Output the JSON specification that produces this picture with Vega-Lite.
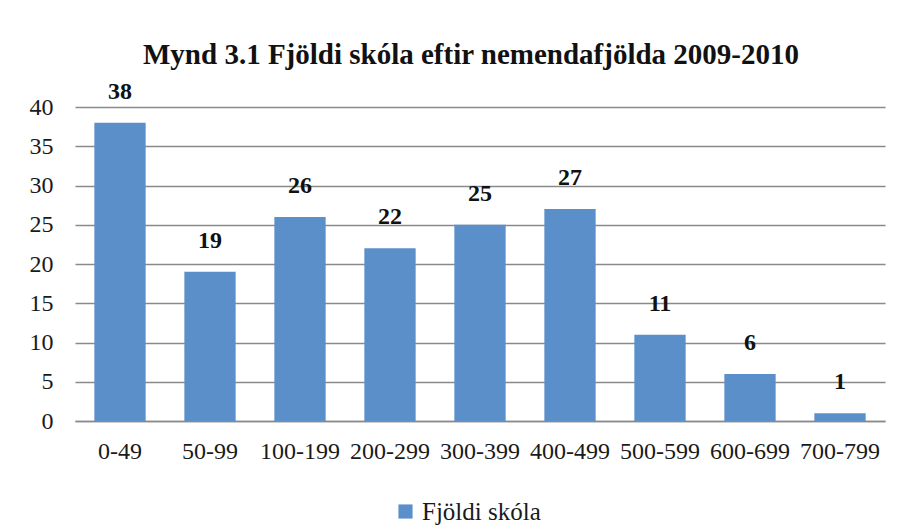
{
  "$schema": "https://vega.github.io/schema/vega-lite/v6.json",
  "autosize": "none",
  "width": 810,
  "height": 314,
  "padding": {"left": 75, "top": 107, "right": 29, "bottom": 105},
  "background": "#ffffff",
  "title": {
    "text": "Mynd 3.1 Fjöldi skóla eftir nemendafjölda 2009-2010",
    "font": "Liberation Serif",
    "fontSize": 29,
    "fontWeight": "bold",
    "color": "#111111",
    "anchor": "middle",
    "dx": -9,
    "offset": 10
  },
  "data": {
    "values": [
      {"flokkur": "0-49", "fjoldi": 38, "rod": "Fjöldi skóla"},
      {"flokkur": "50-99", "fjoldi": 19, "rod": "Fjöldi skóla"},
      {"flokkur": "100-199", "fjoldi": 26, "rod": "Fjöldi skóla"},
      {"flokkur": "200-299", "fjoldi": 22, "rod": "Fjöldi skóla"},
      {"flokkur": "300-399", "fjoldi": 25, "rod": "Fjöldi skóla"},
      {"flokkur": "400-499", "fjoldi": 27, "rod": "Fjöldi skóla"},
      {"flokkur": "500-599", "fjoldi": 11, "rod": "Fjöldi skóla"},
      {"flokkur": "600-699", "fjoldi": 6, "rod": "Fjöldi skóla"},
      {"flokkur": "700-799", "fjoldi": 1, "rod": "Fjöldi skóla"}
    ]
  },
  "encoding": {
    "x": {
      "field": "flokkur",
      "type": "nominal",
      "sort": null,
      "scale": {"paddingInner": 0.43, "paddingOuter": 0.215},
      "axis": {
        "title": null,
        "labelAngle": 0,
        "labelFont": "Liberation Serif",
        "labelFontSize": 24,
        "labelColor": "#1a1a1a",
        "labelPadding": 18,
        "ticks": false,
        "domain": true,
        "domainColor": "#8a8a8a",
        "domainWidth": 1.5
      }
    },
    "y": {
      "field": "fjoldi",
      "type": "quantitative",
      "scale": {"domain": [0, 40]},
      "axis": {
        "title": null,
        "values": [0, 5, 10, 15, 20, 25, 30, 35, 40],
        "labelFont": "Liberation Serif",
        "labelFontSize": 24,
        "labelColor": "#1a1a1a",
        "labelPadding": 22,
        "ticks": false,
        "domain": false,
        "grid": true,
        "gridColor": "#8a8a8a",
        "gridWidth": 1.5
      }
    }
  },
  "layer": [
    {
      "mark": {"type": "bar", "color": "#5b8fc9"},
      "encoding": {
        "color": {
          "field": "rod",
          "type": "nominal",
          "scale": {"range": ["#5b8fc9"]},
          "legend": {
            "title": null,
            "orient": "none",
            "legendX": 318,
            "legendY": 392,
            "symbolType": "square",
            "symbolSize": 200,
            "symbolStrokeWidth": 0,
            "labelFont": "Liberation Serif",
            "labelFontSize": 25,
            "labelColor": "#1a1a1a",
            "labelOffset": 4
          }
        }
      }
    },
    {
      "mark": {
        "type": "text",
        "baseline": "bottom",
        "dy": -19,
        "font": "Liberation Serif",
        "fontSize": 24,
        "fontWeight": "bold",
        "color": "#111111"
      },
      "encoding": {"text": {"field": "fjoldi", "type": "quantitative"}}
    }
  ],
  "config": {"font": "Liberation Serif", "view": {"stroke": null}}
}
